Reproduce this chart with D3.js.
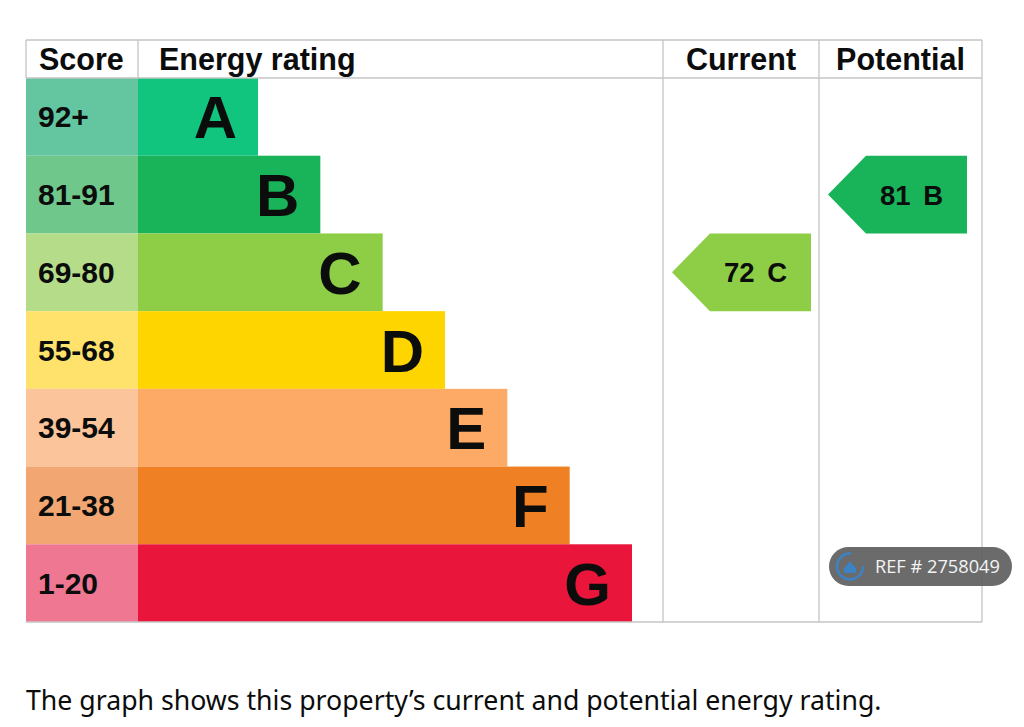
<!DOCTYPE html>
<html>
<head>
<meta charset="utf-8">
<script src="https://cdnjs.cloudflare.com/ajax/libs/d3/7.8.5/d3.min.js"></script>
<style>
  body { margin: 0; background: #fff; }
  svg { display: block; }
</style>
</head>
<body>
<div id="chart"></div>
<script>
// Data
const grades = ["A", "B", "C", "D", "E", "F", "G"];
const scoreRanges = ["92+", "81-91", "69-80", "55-68", "39-54", "21-38", "1-20"];
const barColors = ["#12c57f", "#19b459", "#8dce46", "#ffd500", "#fcaa65", "#ef8023", "#e9153b"];
const scoreColors = ["#63c6a0", "#6fc78b", "#b5dc89", "#fee26c", "#fcc49b", "#f2a672", "#f07792"];
const headers = ["Score", "Energy rating", "Current", "Potential"];
const currentRating = { score: 72, grade: "C" };
const potentialRating = { score: 81, grade: "B" };
const footerText = "The graph shows this property\u2019s current and potential energy rating.";
const refText = "REF # 2758049";

// Layout
const W = 1024, H = 727;
const box = { left: 26, top: 40, right: 982, bottom: 622, head: 78 };
const cols = { score: 138, current: 663, potential: 819 };

const svg = d3.select("#chart").append("svg")
  .attr("width", W)
  .attr("height", H);

// Scales
const yScale = d3.scaleBand()
  .domain(grades)
  .range([box.head, box.bottom])
  .padding(0);

const barEnd = d3.scaleLinear()
  .domain([0, grades.length - 1])
  .range([258, 632]);

const font = "'Liberation Sans', Arial, sans-serif";
const lineColor = "#c4c4c4";

// Score cells
svg.selectAll("rect.score").data(grades).enter()
  .append("rect")
  .attr("class", "score")
  .attr("x", box.left)
  .attr("y", d => yScale(d))
  .attr("width", cols.score - box.left)
  .attr("height", yScale.bandwidth())
  .attr("fill", (d, i) => scoreColors[i]);

svg.selectAll("text.score").data(grades).enter()
  .append("text")
  .attr("class", "score")
  .attr("x", 38)
  .attr("y", d => yScale(d) + yScale.bandwidth() / 2 + 10.5)
  .attr("font-family", font)
  .attr("font-weight", "bold")
  .attr("font-size", 30)
  .attr("fill", "#0b0c0c")
  .text((d, i) => scoreRanges[i]);

// Rating bars
svg.selectAll("rect.bar").data(grades).enter()
  .append("rect")
  .attr("class", "bar")
  .attr("x", cols.score)
  .attr("y", d => yScale(d))
  .attr("width", (d, i) => barEnd(i) - cols.score)
  .attr("height", yScale.bandwidth())
  .attr("fill", (d, i) => barColors[i]);

svg.selectAll("text.bar").data(grades).enter()
  .append("text")
  .attr("class", "bar")
  .attr("x", (d, i) => barEnd(i) - 21)
  .attr("y", d => yScale(d) + yScale.bandwidth() / 2 + 21.5)
  .attr("text-anchor", "end")
  .attr("font-family", font)
  .attr("font-weight", "bold")
  .attr("font-size", 60)
  .attr("fill", "#0b0c0c")
  .text(d => d);

// Grid lines
let lines = [
  [box.left, box.top, box.right, box.top],
  [box.left, box.head, box.right, box.head],
  [box.left, box.bottom, box.right, box.bottom],
  [box.left, box.top, box.left, box.head],
  [cols.score, box.top, cols.score, box.head],
  [cols.current, box.top, cols.current, box.bottom],
  [cols.potential, box.top, cols.potential, box.bottom],
  [box.right, box.top, box.right, box.bottom]
];
svg.selectAll("line.grid").data(lines).enter()
  .append("line")
  .attr("class", "grid")
  .attr("x1", d => d[0]).attr("y1", d => d[1])
  .attr("x2", d => d[2]).attr("y2", d => d[3])
  .attr("stroke", lineColor)
  .attr("stroke-width", 1.3);

// Headers
let headerX = [39, 159, (cols.current + cols.potential) / 2, (cols.potential + box.right) / 2];
svg.selectAll("text.head").data(headers).enter()
  .append("text")
  .attr("class", "head")
  .attr("x", (d, i) => headerX[i])
  .attr("y", 70)
  .attr("text-anchor", (d, i) => i < 2 ? "start" : "middle")
  .attr("font-family", font)
  .attr("font-weight", "bold")
  .attr("font-size", 30.5)
  .attr("fill", "#0b0c0c")
  .text(d => d);

// Arrow markers for current and potential ratings
let drawArrow = (r, left) => {
  let y0 = yScale(r.grade), h = yScale.bandwidth();
  let tip = left + 9, body = left + 47, end = left + 148;
  let i = grades.indexOf(r.grade);
  svg.append("path")
    .attr("d", `M${tip},${y0 + h / 2}L${body},${y0}L${end},${y0}L${end},${y0 + h}L${body},${y0 + h}Z`)
    .attr("fill", barColors[i]);
  svg.append("text")
    .attr("x", end - 24)
    .attr("y", y0 + h / 2 + 10)
    .attr("text-anchor", "end")
    .attr("font-family", font)
    .attr("font-weight", "bold")
    .attr("font-size", 27.5)
    .attr("word-spacing", 5)
    .attr("fill", "#0b0c0c")
    .text(`${r.score} ${r.grade}`);
};
drawArrow(currentRating, cols.current);
drawArrow(potentialRating, cols.potential);

// Footer text, fitted to width
let foot = svg.append("text")
  .attr("x", 26)
  .attr("y", 710)
  .attr("font-family", "'Noto Sans', 'Open Sans', sans-serif")
  .attr("font-size", 30)
  .attr("fill", "#0b0c0c")
  .text(footerText);
let fw = foot.node().getComputedTextLength();
foot.attr("font-size", 30 * 856 / fw);

// REF badge
let badge = svg.append("g").attr("transform", "translate(829,547)");
badge.append("rect")
  .attr("width", 183)
  .attr("height", 39)
  .attr("rx", 19.5)
  .attr("fill", "#5e5e5e")
  .attr("opacity", 0.92);
badge.append("circle")
  .attr("cx", 21).attr("cy", 19.5).attr("r", 13)
  .attr("fill", "none")
  .attr("stroke", "#3b83c4")
  .attr("stroke-width", 2.5)
  .attr("stroke-dasharray", "62 20");
badge.append("path")
  .attr("d", "M15,21L21,14.5L27,21L27,26L15,26Z")
  .attr("fill", "#3b83c4");
let ref = badge.append("text")
  .attr("x", 46)
  .attr("y", 26)
  .attr("font-family", "'Open Sans', sans-serif")
  .attr("font-size", 18)
  .attr("fill", "#f4f4f4")
  .text(refText);
let rw = ref.node().getComputedTextLength();
ref.attr("font-size", 18 * 125 / rw);
</script>
</body>
</html>
